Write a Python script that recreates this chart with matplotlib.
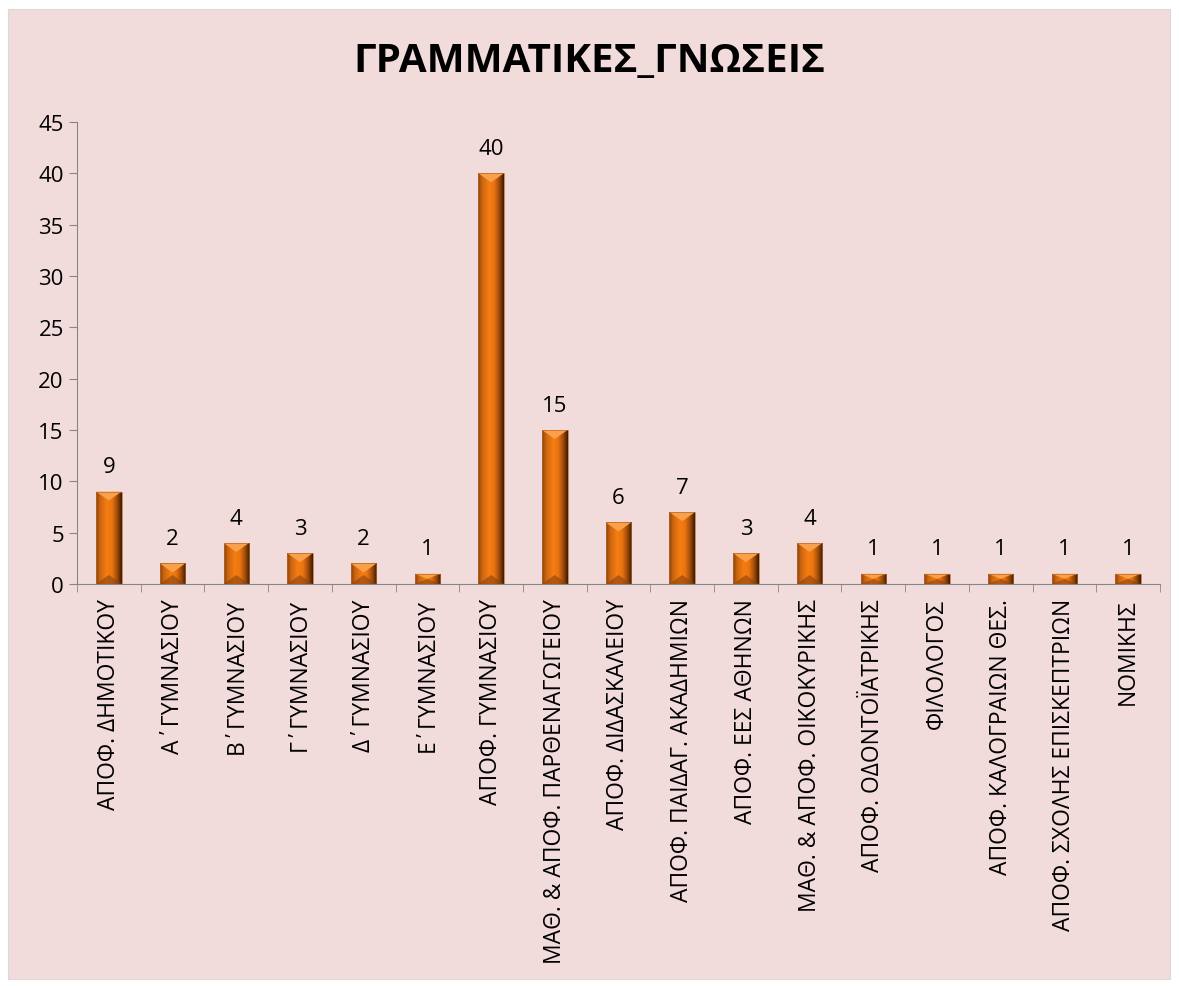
import numpy as np
import matplotlib.pyplot as plt
from matplotlib.colors import LinearSegmentedColormap
from matplotlib.patches import Rectangle, Polygon

categories = ['ΑΠΟΦ. ΔΗΜΟΤΙΚΟΥ', 'Α΄ΓΥΜΝΑΣΙΟΥ', 'Β΄ΓΥΜΝΑΣΙΟΥ', 'Γ΄ΓΥΜΝΑΣΙΟΥ',
              'Δ΄ΓΥΜΝΑΣΙΟΥ', 'Ε΄ΓΥΜΝΑΣΙΟΥ', 'ΑΠΟΦ. ΓΥΜΝΑΣΙΟΥ',
              'ΜΑΘ. & ΑΠΟΦ. ΠΑΡΘΕΝΑΓΩΓΕΙΟΥ', 'ΑΠΟΦ. ΔΙΔΑΣΚΑΛΕΙΟΥ',
              'ΑΠΟΦ. ΠΑΙΔΑΓ. ΑΚΑΔΗΜΙΩΝ', 'ΑΠΟΦ. ΕΕΣ ΑΘΗΝΩΝ',
              'ΜΑΘ. & ΑΠΟΦ. ΟΙΚΟΚΥΡΙΚΗΣ', 'ΑΠΟΦ. ΟΔΟΝΤΟΪΑΤΡΙΚΗΣ', 'ΦΙΛΟΛΟΓΟΣ',
              'ΑΠΟΦ. ΚΑΛΟΓΡΑΙΩΝ ΘΕΣ.', 'ΑΠΟΦ. ΣΧΟΛΗΣ ΕΠΙΣΚΕΠΤΡΙΩΝ', 'ΝΟΜΙΚΗΣ']
values = [9, 2, 4, 3, 2, 1, 40, 15, 6, 7, 3, 4, 1, 1, 1, 1, 1]
yticks = [0, 5, 10, 15, 20, 25, 30, 35, 40, 45]

plt.rcParams['font.family'] = ['Open Sans', 'DejaVu Sans']

fig = plt.figure(figsize=(11.79, 9.87), dpi=100)
fig.patch.set_facecolor('white')
bg = Rectangle((8 / 1179, 7 / 987), 1162 / 1179, 970 / 987, transform=fig.transFigure,
               facecolor='#f2dcdb', edgecolor='#d9d9d9', lw=0.8, zorder=-10)
fig.patches.append(bg)

ax = fig.add_axes([77 / 1179, 1 - 585 / 987, 1083 / 1179, 462 / 987])
ax.set_facecolor('none')

x = np.arange(len(values))
w = 0.4
bars = ax.bar(x, values, width=w, color='none', edgecolor='#b86a30', lw=0.5, zorder=3)

cmap = LinearSegmentedColormap.from_list('bevel', [
    (0.0, '#8a430c'), (0.15, '#cc6410'), (0.42, '#f47e12'),
    (0.62, '#ec7410'), (0.82, '#a04c0a'), (1.0, '#3f1b02')])
grad = np.linspace(0, 1, 64).reshape(1, -1)
px_per_unit = 462 / 45
for b, v in zip(bars, values):
    x0 = b.get_x()
    im = ax.imshow(grad, extent=[x0, x0 + w, 0, v], cmap=cmap, aspect='auto', zorder=2)
    im.set_clip_path(b)
    d = min(9 / px_per_unit, v / 2)
    ax.add_patch(Polygon([(x0, v), (x0 + w, v), (x0 + w / 2, v - d)],
                         closed=True, facecolor='#f9a04a', edgecolor='none', zorder=2.5))
    ax.add_patch(Polygon([(x0, 0), (x0 + w, 0), (x0 + w / 2, d)],
                         closed=True, facecolor='#8a4210', edgecolor='none', alpha=0.6, zorder=2.5))
    ax.text(x0 + w / 2, v + 1.4, str(v), ha='center', va='bottom', fontsize=16, color='black')

ax.set_xlim(-0.5, len(values) - 0.5)
ax.set_ylim(0, 45)
ax.set_yticks(yticks)
ax.set_xticks(x)
ax.set_xticklabels(categories, rotation=90, fontsize=16.5)
ax.set_xticks(np.arange(len(values) + 1) - 0.5, minor=True)
ax.tick_params(axis='x', which='major', length=0, pad=10)
ax.tick_params(axis='x', which='minor', length=6, color='#868686')
ax.tick_params(axis='y', length=6, color='#868686', labelsize=16)
for s in ['top', 'right']:
    ax.spines[s].set_visible(False)
for s in ['left', 'bottom']:
    ax.spines[s].set_color('#868686')

fig.text(0.5, 1 - 62 / 987, 'ΓΡΑΜΜΑΤΙΚΕΣ_ΓΝΩΣΕΙΣ', ha='center', va='center',
         fontsize=29, fontweight='bold')

fig.savefig('out.png', dpi=100)
